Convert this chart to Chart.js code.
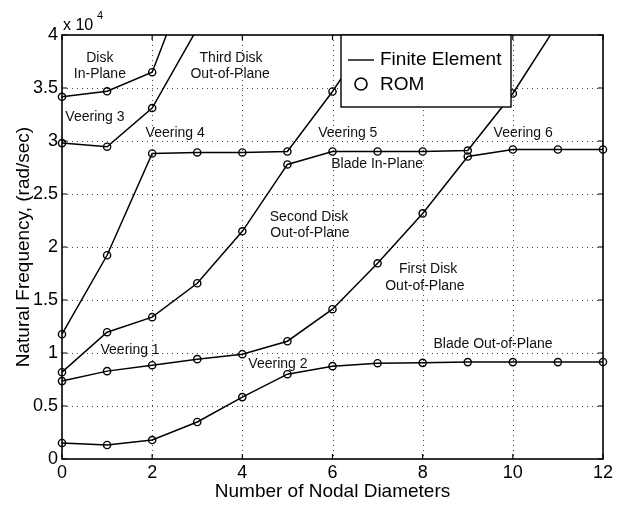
<!DOCTYPE html>
<html><head><meta charset="utf-8">
<script src="https://cdn.jsdelivr.net/npm/chart.js@4/dist/chart.umd.min.js"></script>
<style>html,body{margin:0;padding:0;background:#fff}canvas{display:block}</style>
</head><body>
<canvas id="c" width="620" height="505"></canvas>
<script>
// ---- data ----
const nodalDiameters = [0, 1, 2, 3, 4, 5, 6, 7, 8, 9, 10, 11, 12];
const mode1 = [1510, 1320, 1790, 3490, 5840, 8000, 8760, 9040, 9070, 9140, 9140, 9140, 9150];
const mode2 = [7350, 8290, 8850, 9420, 9890, 11110, 14130, 18460, 23170, 28540, 29200, 29200, 29200];
const mode3 = [8190, 11960, 13380, 16580, 21480, 27790, 29010, 29010, 29010, 29100, 34480, 41100, null];
const mode4 = [11770, 19220, 28820, 28920, 28920, 29010, 34670, 41000, null, null, null, null, null];
const mode5 = [29800, 29460, 33110, 40600, null, null, null, null, null, null, null, null, null];
const mode6 = [34170, 34690, 36490, 47600, null, null, null, null, null, null, null, null, null];
const modes = [mode1, mode2, mode3, mode4, mode5, mode6];

const xTickValues = [0, 2, 4, 6, 8, 10, 12];
const yTickValues = [0, 5000, 10000, 15000, 20000, 25000, 30000, 35000, 40000];
const yTickLabels = ['0', '0.5', '1', '1.5', '2', '2.5', '3', '3.5', '4'];

const legendLabels = ['Finite Element', 'ROM'];
const xTitle = 'Number of Nodal Diameters';
const yTitle = 'Natural Frequency, (rad/sec)';
const exponentBase = 'x 10';
const exponentPower = '4';

// annotation texts, anchored in data coordinates
const annotationText = ['Disk', 'In-Plane', 'Third Disk', 'Out-of-Plane', 'Veering 3', 'Veering 4',
  'Veering 5', 'Blade In-Plane', 'Veering 6', 'Second Disk', 'Out-of-Plane', 'First Disk',
  'Out-of-Plane', 'Veering 1', 'Veering 2', 'Blade Out-of-Plane'];
const annotationX = [0.84, 0.84, 3.75, 3.73, 0.73, 2.51, 6.34, 6.99, 10.23, 5.48, 5.50, 8.12, 8.05, 1.51, 4.79, 9.56];
const annotationY = [37790, 36280, 37790, 36280, 32230, 30720, 30720, 27800, 30720, 22800, 21300, 17900, 16300, 10270, 8950, 10840];

// ---- chart ----
const FONT = "'Liberation Sans', Arial, Helvetica, sans-serif";
const datasets = modes.map((m, i) => ({
  label: 'mode ' + (i + 1),
  data: nodalDiameters.map((x, j) => ({x: x, y: m[j]})),
  borderColor: '#000',
  borderWidth: 1.5,
  pointRadius: 3.6,
  pointBorderWidth: 1.4,
  pointBorderColor: '#000',
  pointBackgroundColor: 'rgba(0,0,0,0)',
  pointStyle: 'circle',
  showLine: true,
  spanGaps: false,
  tension: 0,
  clip: {left: 10, right: 10, top: 0, bottom: 10}
}));

const decor = {
  id: 'decor',
  beforeDatasetsDraw(chart) {
    const {ctx, chartArea: a, scales: {x, y}} = chart;
    ctx.save();
    ctx.strokeStyle = '#444';
    ctx.lineWidth = 1;
    ctx.setLineDash([1, 4]);
    xTickValues.slice(1, -1).forEach(v => {
      const px = Math.round(x.getPixelForValue(v)) + 0.5;
      ctx.beginPath(); ctx.moveTo(px, a.top); ctx.lineTo(px, a.bottom); ctx.stroke();
    });
    yTickValues.slice(1, -1).forEach(v => {
      const py = Math.round(y.getPixelForValue(v)) + 0.5;
      ctx.beginPath(); ctx.moveTo(a.left, py); ctx.lineTo(a.right, py); ctx.stroke();
    });
    ctx.restore();
  },
  afterDatasetsDraw(chart) {
    const {ctx, chartArea: a, scales: {x, y}} = chart;
    ctx.save();
    // annotations
    ctx.fillStyle = '#111';
    ctx.font = '14px ' + FONT;
    ctx.textAlign = 'center';
    ctx.textBaseline = 'middle';
    annotationText.forEach((t, i) => {
      ctx.fillText(t, x.getPixelForValue(annotationX[i]), y.getPixelForValue(annotationY[i]));
    });
    // box
    ctx.strokeStyle = '#000';
    ctx.lineWidth = 1.6;
    ctx.setLineDash([]);
    ctx.strokeRect(a.left, a.top, a.right - a.left, a.bottom - a.top);
    // inward tick marks
    ctx.lineWidth = 1.2;
    const tl = 5;
    xTickValues.forEach(v => {
      const px = x.getPixelForValue(v);
      ctx.beginPath();
      ctx.moveTo(px, a.bottom); ctx.lineTo(px, a.bottom - tl);
      ctx.moveTo(px, a.top); ctx.lineTo(px, a.top + tl);
      ctx.stroke();
    });
    yTickValues.forEach(v => {
      const py = y.getPixelForValue(v);
      ctx.beginPath();
      ctx.moveTo(a.left, py); ctx.lineTo(a.left + tl, py);
      ctx.moveTo(a.right, py); ctx.lineTo(a.right - tl, py);
      ctx.stroke();
    });
    // legend box
    const lx = a.left + 279, ly = a.top, lw = 170, lh = 72;
    ctx.fillStyle = '#fff';
    ctx.fillRect(lx, ly, lw, lh);
    ctx.lineWidth = 1.4;
    ctx.strokeRect(lx, ly, lw, lh);
    ctx.beginPath();
    ctx.moveTo(lx + 7, ly + 25); ctx.lineTo(lx + 33, ly + 25);
    ctx.stroke();
    ctx.beginPath();
    ctx.arc(lx + 20, ly + 49, 6, 0, Math.PI * 2);
    ctx.lineWidth = 1.6;
    ctx.stroke();
    ctx.fillStyle = '#000';
    ctx.font = '19px ' + FONT;
    ctx.textAlign = 'left';
    ctx.textBaseline = 'middle';
    ctx.fillText(legendLabels[0], lx + 39, ly + 25);
    ctx.fillText(legendLabels[1], lx + 39, ly + 50);
    // exponent label
    ctx.textBaseline = 'alphabetic';
    ctx.font = '16px ' + FONT;
    ctx.fillText(exponentBase, a.left + 1, a.top - 5);
    ctx.font = '11px ' + FONT;
    ctx.fillText(exponentPower, a.left + 35, a.top - 16);
    ctx.restore();
  }
};

new Chart(document.getElementById('c'), {
  type: 'line',
  data: {datasets},
  plugins: [decor],
  options: {
    responsive: false,
    devicePixelRatio: 1,
    animation: false,
    events: [],
    layout: {padding: {left: 0, top: 35, right: 17, bottom: 0}},
    plugins: {legend: {display: false}, tooltip: {enabled: false}, title: {display: false}},
    scales: {
      x: {
        type: 'linear', min: 0, max: 12,
        afterBuildTicks: s => { s.ticks = xTickValues.map(v => ({value: v})); },
        afterFit: s => { s.height = 46; },
        grid: {display: false, drawTicks: false},
        border: {display: false},
        ticks: {color: '#000', font: {family: FONT, size: 18}, padding: 3, maxRotation: 0, autoSkip: false},
        title: {display: true, text: xTitle, color: '#000', font: {family: FONT, size: 19}, padding: {top: 0, bottom: 2}}
      },
      y: {
        type: 'linear', min: 0, max: 40000,
        afterBuildTicks: s => { s.ticks = yTickValues.map(v => ({value: v})); },
        afterFit: s => { s.width = 62; },
        grid: {display: false, drawTicks: false},
        border: {display: false},
        ticks: {color: '#000', font: {family: FONT, size: 18}, padding: 4, autoSkip: false,
          callback: (v) => yTickLabels[yTickValues.indexOf(v)]},
        title: {display: true, text: yTitle, color: '#000', font: {family: FONT, size: 19}, padding: {top: 12, bottom: 0}}
      }
    }
  }
});
</script>
</body></html>
